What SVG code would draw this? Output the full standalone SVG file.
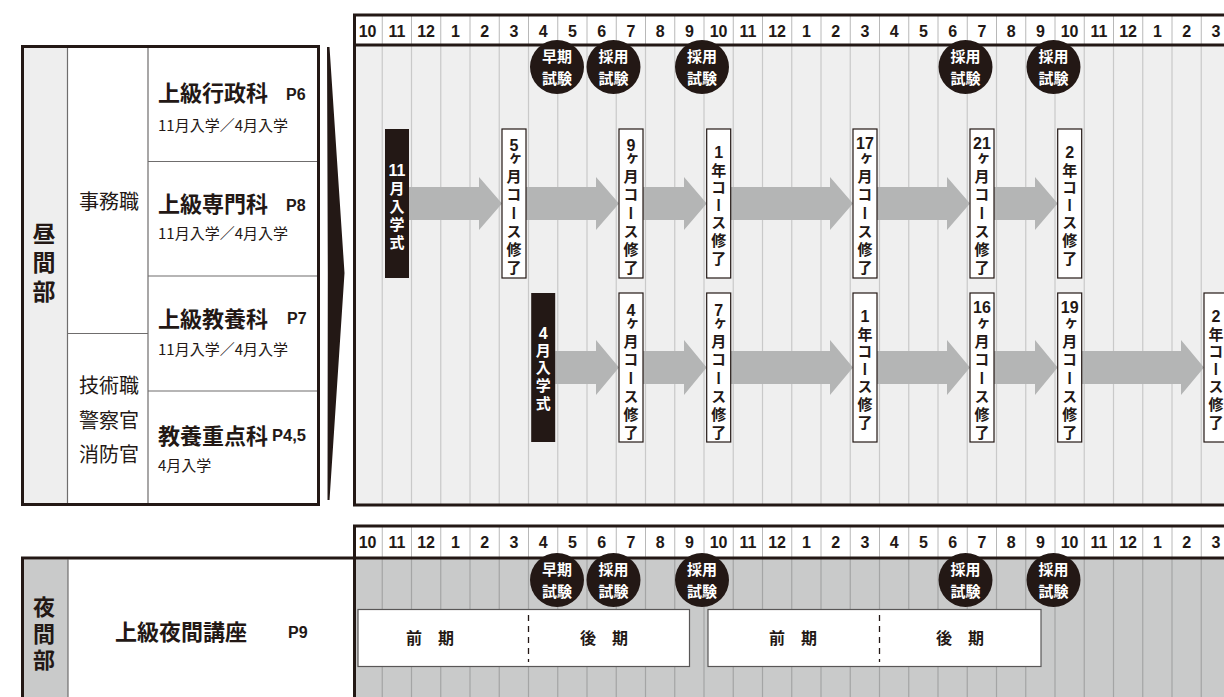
<svg xmlns="http://www.w3.org/2000/svg" width="1224" height="697" viewBox="0 0 1224 697">
<style>
.jp{font-family:"Noto Sans CJK JP","Noto Sans",sans-serif;fill:#231815}
.b{font-weight:bold}
.num{font-family:"Liberation Sans",Arial,sans-serif;font-weight:bold;fill:#231815}
.mon text{font-family:"Liberation Sans",Arial,sans-serif;font-weight:bold;font-size:16px;fill:#231815;text-anchor:middle}
.vt{font-family:"Noto Sans CJK JP",sans-serif;font-weight:bold;font-size:15px;writing-mode:vertical-rl;fill:#231815}
.vh{font-family:"Noto Sans CJK JP",sans-serif;font-weight:bold;writing-mode:vertical-rl;fill:#231815}
.vtw{fill:#fff}
.mn{font-family:"Liberation Sans",Arial,sans-serif;font-weight:bold;font-size:16px;fill:#231815;text-anchor:middle}
.arrow{fill:#b4b5b5}
.mk{fill:#fff;stroke:#231815;stroke-width:1.2}
.mkb{fill:#231815}
.circ{fill:#231815}
.ct{font-family:"Noto Sans CJK JP",sans-serif;font-weight:bold;font-size:15px;fill:#fff;text-anchor:middle}
.bd{fill:none;stroke:#231815;stroke-width:3}
.thin{fill:none;stroke:#6f6d6d;stroke-width:1.2}
.hsep{fill:none;stroke:#b8b8b8;stroke-width:1}
.mid{text-anchor:middle}
</style>
<defs>
<g id="months" class="mon">
<text x="367.6">10</text><text x="396.9">11</text><text x="426.1">12</text><text x="455.4">1</text><text x="484.6">2</text><text x="513.9">3</text><text x="543.1">4</text><text x="572.4">5</text><text x="601.6">6</text><text x="630.9">7</text><text x="660.1">8</text><text x="689.4">9</text><text x="718.6">10</text><text x="747.9">11</text><text x="777.1">12</text><text x="806.4">1</text><text x="835.6">2</text><text x="864.9">3</text><text x="894.1">4</text><text x="923.4">5</text><text x="952.6">6</text><text x="981.9">7</text><text x="1011.1">8</text><text x="1040.4">9</text><text x="1069.6">10</text><text x="1098.9">11</text><text x="1128.1">12</text><text x="1157.4">1</text><text x="1186.6">2</text><text x="1215.9">3</text>
</g>
</defs>

<!-- Day table -->
<g id="day-table">
<rect x="22.5" y="46.5" width="296" height="458" fill="#fff"/>
<rect x="24" y="48" width="43.5" height="455" fill="#eeeeee"/>
<path class="thin" d="M67.5 48V503M148 48V503M67.5 333.5H148M148 161.5H317M148 276H317M148 391H317"/>
<rect class="bd" x="22.5" y="46.5" width="296" height="458"/>
<text class="vh" x="44" y="221.5" font-size="23" letter-spacing="6">昼間部</text>
<g class="jp" font-size="20" text-anchor="middle">
<text x="109" y="209.3">事務職</text>
<text x="109" y="392.6">技術職</text>
<text x="109" y="427.6">警察官</text>
<text x="109" y="461.6">消防官</text>
</g>
</g>
<g id="course-gyosei">
<text class="jp b" x="158" y="101" font-size="22">上級行政科</text>
<text class="num" x="286" y="100" font-size="16">P6</text>
<text class="jp" x="158" y="131" font-size="15">11月入学／4月入学</text>
</g>
<g id="course-senmon">
<text class="jp b" x="158" y="212" font-size="22">上級専門科</text>
<text class="num" x="286" y="211" font-size="16">P8</text>
<text class="jp" x="158" y="239" font-size="15">11月入学／4月入学</text>
</g>
<g id="course-kyoyo">
<text class="jp b" x="158" y="326.5" font-size="22">上級教養科</text>
<text class="num" x="287" y="324" font-size="16">P7</text>
<text class="jp" x="158" y="354.5" font-size="15">11月入学／4月入学</text>
</g>
<g id="course-juten">
<text class="jp b" x="158" y="444" font-size="22">教養重点科</text>
<text class="num" x="272" y="441" font-size="16.5">P4,5</text>
<text class="jp" x="158" y="470.5" font-size="15">4月入学</text>
</g>

<!-- wedge -->
<polygon id="wedge" points="327,47 329.5,47 344.5,273 329.5,500 327.5,500 327.8,273" fill="#231815"/>

<!-- Day timeline -->
<g id="day-timeline">
<rect x="353" y="15" width="871" height="30" fill="#fff"/>
<rect x="353" y="45" width="871" height="460" fill="#efefef"/>
<path class="hsep" d="M382.25 15V45M411.5 15V45M440.75 15V45M470 15V45M499.25 15V45M528.5 15V45M557.75 15V45M587 15V45M616.25 15V45M645.5 15V45M674.75 15V45M704 15V45M733.25 15V45M762.5 15V45M791.75 15V45M821 15V45M850.25 15V45M879.5 15V45M908.75 15V45M938 15V45M967.25 15V45M996.5 15V45M1025.75 15V45M1055 15V45M1084.25 15V45M1113.5 15V45M1142.75 15V45M1172 15V45M1201.25 15V45"/>
<path fill="none" stroke="#c9c9c9" stroke-width="1.2" d="M382.25 45V505M411.5 45V505M440.75 45V505M470 45V505M499.25 45V505M528.5 45V505M557.75 45V505M587 45V505M616.25 45V505M645.5 45V505M674.75 45V505M704 45V505M733.25 45V505M762.5 45V505M791.75 45V505M821 45V505M850.25 45V505M879.5 45V505M908.75 45V505M938 45V505M967.25 45V505M996.5 45V505M1025.75 45V505M1055 45V505M1084.25 45V505M1113.5 45V505M1142.75 45V505M1172 45V505M1201.25 45V505"/>
<use href="#months" y="36.5"/>
</g>

<!-- Connectors (arrows) -->
<g id="connectors" class="arrow">
<polygon points="409,187 479,187 479,177 502,203.5 479,230 479,220 409,220"/>
<polygon points="526,187 596,187 596,177 619,203.5 596,230 596,220 526,220"/>
<polygon points="643,187 684,187 684,177 706.7,203.5 684,230 684,220 643,220"/>
<polygon points="730.7,187 830,187 830,177 853,203.5 830,230 830,220 730.7,220"/>
<polygon points="877,187 947,187 947,177 970,203.5 947,230 947,220 877,220"/>
<polygon points="994,187 1035,187 1035,177 1057.7,203.5 1035,230 1035,220 994,220"/>
<polygon points="555.2,351 596,351 596,340 619,367.5 596,395 596,384 555.2,384"/>
<polygon points="643,351 684,351 684,340 706.7,367.5 684,395 684,384 643,384"/>
<polygon points="730.7,351 830,351 830,340 853,367.5 830,395 830,384 730.7,384"/>
<polygon points="877,351 947,351 947,340 970,367.5 947,395 947,384 877,384"/>
<polygon points="994,351 1035,351 1035,340 1057.7,367.5 1035,395 1035,384 994,384"/>
<polygon points="1081.7,351 1181,351 1181,340 1204,367.5 1181,395 1181,384 1081.7,384"/>
</g>

<!-- Top row markers -->
<g id="m-nov">
<rect class="mkb" x="385" y="129" width="24" height="149"/>
<text class="mn" x="397" y="175.5" style="fill:#fff" font-size="15">11</text>
<text class="vt vtw" x="397" y="180.5" letter-spacing="3">月入学式</text>
</g>
<g id="m-5">
<rect class="mk" x="502" y="129" width="24" height="149"/>
<text class="mn" x="514" y="150.7">5</text>
<text class="vt" x="514" y="150.5" letter-spacing="3.3">ヶ月コース修了</text>
</g>
<g id="m-9">
<rect class="mk" x="619" y="129" width="24" height="149"/>
<text class="mn" x="631" y="150.7">9</text>
<text class="vt" x="631" y="150.5" letter-spacing="3.3">ヶ月コース修了</text>
</g>
<g id="m-1y">
<rect class="mk" x="706.7" y="129" width="24" height="149"/>
<text class="mn" x="718.7" y="157.7">1</text>
<text class="vt" x="718.7" y="162.5" letter-spacing="2.6">年コース修了</text>
</g>
<g id="m-17">
<rect class="mk" x="853" y="129" width="24" height="149"/>
<text class="mn" x="865" y="148.7">17</text>
<text class="vt" x="865" y="150.5" letter-spacing="3.3">ヶ月コース修了</text>
</g>
<g id="m-21">
<rect class="mk" x="970" y="129" width="24" height="149"/>
<text class="mn" x="982" y="148.7">21</text>
<text class="vt" x="982" y="150.5" letter-spacing="3.3">ヶ月コース修了</text>
</g>
<g id="m-2y">
<rect class="mk" x="1057.7" y="129" width="24" height="149"/>
<text class="mn" x="1069.7" y="157.7">2</text>
<text class="vt" x="1069.7" y="162.5" letter-spacing="2.6">年コース修了</text>
</g>

<!-- Bottom row markers -->
<g id="m-apr">
<rect class="mkb" x="531.2" y="293" width="24" height="149"/>
<text class="mn" x="543.2" y="338.7" style="fill:#fff">4</text>
<text class="vt vtw" x="543.2" y="342.5" letter-spacing="2.7">月入学式</text>
</g>
<g id="m-b4">
<rect class="mk" x="619" y="293" width="24" height="149"/>
<text class="mn" x="631" y="315.7">4</text>
<text class="vt" x="631" y="315.5" letter-spacing="3.3">ヶ月コース修了</text>
</g>
<g id="m-b7">
<rect class="mk" x="706.7" y="293" width="24" height="149"/>
<text class="mn" x="718.7" y="315.7">7</text>
<text class="vt" x="718.7" y="315.5" letter-spacing="3.3">ヶ月コース修了</text>
</g>
<g id="m-b1y">
<rect class="mk" x="853" y="293" width="24" height="149"/>
<text class="mn" x="865" y="321.7">1</text>
<text class="vt" x="865" y="326.5" letter-spacing="2.6">年コース修了</text>
</g>
<g id="m-b16">
<rect class="mk" x="970" y="293" width="24" height="149"/>
<text class="mn" x="982" y="312.7">16</text>
<text class="vt" x="982" y="315.5" letter-spacing="3.3">ヶ月コース修了</text>
</g>
<g id="m-b19">
<rect class="mk" x="1057.7" y="293" width="24" height="149"/>
<text class="mn" x="1069.7" y="312.7">19</text>
<text class="vt" x="1069.7" y="315.5" letter-spacing="3.3">ヶ月コース修了</text>
</g>
<g id="m-b2y">
<rect class="mk" x="1204" y="293" width="24" height="149"/>
<text class="mn" x="1216" y="321.7">2</text>
<text class="vt" x="1216" y="326.5" letter-spacing="2.6">年コース修了</text>
</g>

<!-- Exam circles (day) -->
<g id="exams-day">
<circle class="circ" cx="557" cy="67" r="27"/>
<text class="ct" x="557" y="62.2">早期</text><text class="ct" x="557" y="83.7">試験</text>
<circle class="circ" cx="613.5" cy="67" r="27"/>
<text class="ct" x="613.5" y="62.2">採用</text><text class="ct" x="613.5" y="83.7">試験</text>
<circle class="circ" cx="702" cy="67" r="27"/>
<text class="ct" x="702" y="62.2">採用</text><text class="ct" x="702" y="83.7">試験</text>
<circle class="circ" cx="965.5" cy="67" r="27"/>
<text class="ct" x="965.5" y="62.2">採用</text><text class="ct" x="965.5" y="83.7">試験</text>
<circle class="circ" cx="1053.5" cy="67" r="27"/>
<text class="ct" x="1053.5" y="62.2">採用</text><text class="ct" x="1053.5" y="83.7">試験</text>
</g>
<path class="bd" d="M353 15H1224M353 45H1224M354.5 13.5V506.5M353 505H1224"/>

<!-- Night table -->
<g id="night-table">
<rect x="24" y="559.5" width="44" height="140" fill="#c9caca"/>
<path class="thin" d="M68 559.5V697"/>
<path class="bd" d="M21 558H354M22.5 556.5V697"/>
<text class="vh" x="44" y="596" font-size="22" letter-spacing="4.5">夜間部</text>
<text class="jp b" x="115" y="639.5" font-size="22">上級夜間講座</text>
<text class="num" x="288" y="638" font-size="16">P9</text>
</g>

<!-- Night timeline -->
<g id="night-timeline">
<rect x="353" y="526" width="871" height="32" fill="#fff"/>
<rect x="353" y="558" width="871" height="139" fill="#c9caca"/>
<path class="hsep" d="M382.25 526V558M411.5 526V558M440.75 526V558M470 526V558M499.25 526V558M528.5 526V558M557.75 526V558M587 526V558M616.25 526V558M645.5 526V558M674.75 526V558M704 526V558M733.25 526V558M762.5 526V558M791.75 526V558M821 526V558M850.25 526V558M879.5 526V558M908.75 526V558M938 526V558M967.25 526V558M996.5 526V558M1025.75 526V558M1055 526V558M1084.25 526V558M1113.5 526V558M1142.75 526V558M1172 526V558M1201.25 526V558"/>
<path fill="none" stroke="#a4a5a5" stroke-width="1.2" d="M382.25 558V697M411.5 558V697M440.75 558V697M470 558V697M499.25 558V697M528.5 558V697M557.75 558V697M587 558V697M616.25 558V697M645.5 558V697M674.75 558V697M704 558V697M733.25 558V697M762.5 558V697M791.75 558V697M821 558V697M850.25 558V697M879.5 558V697M908.75 558V697M938 558V697M967.25 558V697M996.5 558V697M1025.75 558V697M1055 558V697M1084.25 558V697M1113.5 558V697M1142.75 558V697M1172 558V697M1201.25 558V697"/>
<use href="#months" y="548"/>
</g>

<g id="night-term1">
<rect x="358" y="609.5" width="331.5" height="57" fill="#fff" stroke="#595757" stroke-width="1.2"/>
<path d="M528.5 615V662" stroke="#231815" stroke-width="1.3" stroke-dasharray="6,5"/>
<text class="jp b mid" x="430" y="644" font-size="16">前　期</text>
<text class="jp b mid" x="604" y="644" font-size="16">後　期</text>
</g>
<g id="night-term2">
<rect x="708" y="609.5" width="333" height="57" fill="#fff" stroke="#595757" stroke-width="1.2"/>
<path d="M879.5 615V662" stroke="#231815" stroke-width="1.3" stroke-dasharray="6,5"/>
<text class="jp b mid" x="793" y="644" font-size="16">前　期</text>
<text class="jp b mid" x="960" y="644" font-size="16">後　期</text>
</g>

<g id="exams-night">
<circle class="circ" cx="557" cy="580" r="27"/>
<text class="ct" x="557" y="575.2">早期</text><text class="ct" x="557" y="596.7">試験</text>
<circle class="circ" cx="613.5" cy="580" r="27"/>
<text class="ct" x="613.5" y="575.2">採用</text><text class="ct" x="613.5" y="596.7">試験</text>
<circle class="circ" cx="702" cy="580" r="27"/>
<text class="ct" x="702" y="575.2">採用</text><text class="ct" x="702" y="596.7">試験</text>
<circle class="circ" cx="965.5" cy="580" r="27"/>
<text class="ct" x="965.5" y="575.2">採用</text><text class="ct" x="965.5" y="596.7">試験</text>
<circle class="circ" cx="1053.5" cy="580" r="27"/>
<text class="ct" x="1053.5" y="575.2">採用</text><text class="ct" x="1053.5" y="596.7">試験</text>
</g>
<path class="bd" d="M353 526H1224M353 558H1224M354.5 524.5V697"/>
</svg>
